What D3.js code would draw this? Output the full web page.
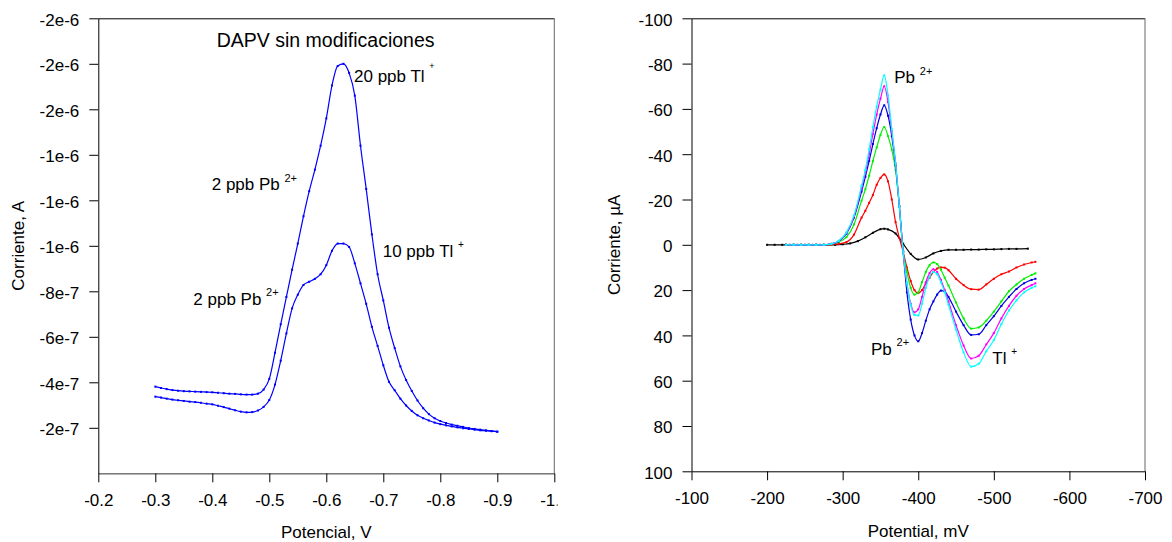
<!DOCTYPE html>
<html><head><meta charset="utf-8">
<script src="https://cdn.jsdelivr.net/npm/d3@7"></script>
<style>
html,body{margin:0;padding:0;background:#fff;}
svg{display:block;font-family:"Liberation Sans",Arial,sans-serif;}
text{white-space:pre;}
</style></head><body>
<svg id="chart" width="1172" height="542"></svg>
<script>
// ---------- LEFT CHART DATA (current in units of 1e-7 A) ----------
const potencialV = [-0.30,-0.31,-0.32,-0.33,-0.34,-0.35,-0.36,-0.37,-0.38,-0.39,-0.40,-0.41,-0.42,-0.43,-0.44,-0.45,-0.46,-0.47,-0.48,-0.49,-0.50,-0.51,-0.52,-0.53,-0.54,-0.55,-0.56,-0.57,-0.58,-0.59,-0.60,-0.61,-0.62,-0.63,-0.64,-0.65,-0.66,-0.67,-0.68,-0.69,-0.70,-0.71,-0.72,-0.73,-0.74,-0.75,-0.76,-0.77,-0.78,-0.79,-0.80,-0.81,-0.82,-0.83,-0.84,-0.85,-0.86,-0.87,-0.88,-0.89,-0.90];
const corriente20ppbTl = [-3.81,-3.75,-3.70,-3.66,-3.63,-3.61,-3.60,-3.59,-3.58,-3.57,-3.56,-3.54,-3.52,-3.50,-3.49,-3.47,-3.46,-3.46,-3.50,-3.68,-4.15,-5.3,-6.55,-7.75,-8.95,-10.1,-11.3,-12.4,-13.35,-14.4,-15.6,-17.05,-17.9,-18.0,-17.6,-16.6,-14.4,-12.5,-10.5,-8.75,-7.6,-6.4,-5.5,-4.7,-4.1,-3.62,-3.2,-2.86,-2.6,-2.42,-2.3,-2.21,-2.14,-2.09,-2.04,-1.99,-1.95,-1.92,-1.89,-1.86,-1.83];
const corriente10ppbTl = [-3.37,-3.33,-3.28,-3.24,-3.21,-3.18,-3.15,-3.13,-3.10,-3.06,-3.03,-2.97,-2.91,-2.84,-2.77,-2.71,-2.68,-2.69,-2.76,-2.92,-3.22,-3.9,-4.95,-6.15,-7.25,-7.85,-8.28,-8.42,-8.55,-8.75,-9.15,-9.78,-10.1,-10.1,-9.95,-9.23,-8.35,-7.45,-6.44,-5.6,-4.75,-4.02,-3.65,-3.28,-2.98,-2.74,-2.55,-2.42,-2.32,-2.23,-2.16,-2.11,-2.06,-2.02,-1.98,-1.95,-1.92,-1.89,-1.87,-1.85,-1.83];
const ticksXLeft = [-0.2,-0.3,-0.4,-0.5,-0.6,-0.7,-0.8,-0.9,-1.0];
const labelsXLeft = ["-0.2","-0.3","-0.4","-0.5","-0.6","-0.7","-0.8","-0.9","-1.0"];
const ticksYLeft = [-2,-4,-6,-8,-10,-12,-14,-16,-18,-20];
const labelsYLeft = ["-2e-7","-4e-7","-6e-7","-8e-7","-1e-6","-1e-6","-1e-6","-2e-6","-2e-6","-2e-6"];

// ---------- RIGHT CHART DATA (current in µA) ----------
const potencialMV = [-225,-235,-245,-255,-265,-275,-285,-295,-305,-315,-325,-330,-335,-340,-345,-350,-355,-360,-365,-370,-375,-380,-385,-390,-395,-400,-405,-410,-415,-420,-425,-430,-435,-440,-450,-460,-470,-480,-490,-500,-510,-520,-530,-540,-550,-555];
const potencialMVNegro = [-200,-210,-220,-230,-240,-250,-260,-270,-280,-290,-300,-310,-320,-330,-340,-350,-355,-360,-370,-380,-390,-400,-410,-420,-430,-440,-450,-460,-470,-480,-490,-500,-510,-520,-530,-545];
const serieNegra = [0,0,0,0,0,0,0,0,0,0,-0.2,-0.6,-1.6,-3.3,-5.3,-6.9,-7.1,-6.8,-5,-0.5,4,6.5,5.6,3.8,2.7,2.2,2.2,2.2,2.1,2.1,2.0,2.0,1.9,1.8,1.8,1.7];
const serieRoja = [0,0,0,0,0,0,-0.1,-0.4,-1.2,-4.5,-12,-15,-18.5,-22,-26.5,-29.5,-31.1,-28,-20,-10,-3,3,10,16,20,21.3,20,17,14.5,12,10.5,10,10.1,11.2,15,17.8,19.6,19.8,17.5,15,13,11.8,10,8.7,7.8,7.5];
const serieVerde = [0,0,0,0,0,0,-0.3,-1.3,-3.4,-9,-19.5,-24.5,-30.5,-37,-43,-48.5,-52,-48,-42,-33,-17,3,12,19,22,21,16.5,12,9,7.8,8.5,11,14.5,18,25.5,32.5,37,36.5,33.5,29.5,25,20.5,17.5,15,13.3,12.6];
const serieAzul = [0,0,0,0,0,0,-0.4,-1.6,-4.9,-12,-23.5,-30,-37,-44.5,-51.5,-57.5,-61.6,-57,-48,-35,-17,3,21,33,40,42.6,39,33.5,28.5,25,22,20.2,20.5,23,29.5,35.5,39.8,39.5,35.5,31.5,27,23,19.5,17,15.5,15];
const serieMagenta = [0,0,0,0,0,0,-0.4,-1.7,-5.2,-12.5,-25,-32,-40,-49,-57.5,-64.5,-70,-63,-50,-36,-17,3,17,26,29.8,28.5,23,16.5,12.5,10.8,12,15.5,20,25,35.5,44.5,50.2,49,44,39,32.5,27,22.5,19.5,17.8,17];
const serieCian = [0,0,0,0,0,0,-0.4,-1.8,-5.5,-13,-26,-33,-42,-52,-61,-68.5,-74.8,-66,-51,-36,-17,3,17,26.5,31,31.2,26,19,14,12,13,16.5,21,26.5,37.5,47.5,53.8,52.5,47,42,35,29,24.5,21,19,18.3];
const ticksXRight = [-100,-200,-300,-400,-500,-600,-700];
const labelsXRight = ["-100","-200","-300","-400","-500","-600","-700"];
const ticksYRight = [-100,-80,-60,-40,-20,0,20,40,60,80,100];
const labelsYRight = ["-100","-80","-60","-40","-20","0","20","40","60","80","100"];

// ---------- DRAWING ----------
const svg = d3.select("#chart");
const FS = 17;

function styleAxis(g){
  g.selectAll("path.domain").attr("stroke","#000").attr("stroke-width",1);
  g.selectAll(".tick line").attr("stroke","#000").attr("stroke-width",1);
  g.selectAll(".tick text").attr("fill","#000").attr("font-size",FS)
    .attr("font-family","'Liberation Sans',Arial,sans-serif");
}

function drawSeries(g, xs, ys, xScale, yScale, color){
  const pts = xs.map((x,i)=>[x, ys[i]]);
  const line = d3.line().x(d=>xScale(d[0])).y(d=>yScale(d[1])).curve(d3.curveMonotoneX);
  g.append("path").datum(pts).attr("d",line).attr("fill","none")
    .attr("stroke",color).attr("stroke-width",1.2);
  g.selectAll(null).data(pts).enter().append("rect")
    .attr("x",d=>xScale(d[0])-1).attr("y",d=>yScale(d[1])-1)
    .attr("width",2).attr("height",2).attr("fill",color);
}

function annot(g, x, y, main, sup, supSize, supDy, size){
  const t = g.append("text").attr("x",x).attr("y",y)
    .attr("font-size",size||FS).attr("fill","#000");
  t.append("tspan").text(main);
  if (sup) t.append("tspan").attr("font-size",supSize).attr("dy",supDy).text(sup);
}

// ===== LEFT =====
const xL = d3.scaleLinear().domain([-0.2,-1.0]).range([98.3,554.3]);
const yL = d3.scaleLinear().domain([0,-20]).range([473.3,18.3]);
const gL = svg.append("g");

svg.append("defs").append("clipPath").attr("id","clipL")
  .append("rect").attr("x",0).attr("y",0).attr("width",557.5).attr("height",542);

gL.append("line").attr("x1",xL(-0.2)).attr("x2",xL(-1.0)).attr("y1",yL(-20)+0.5).attr("y2",yL(-20)+0.5).attr("stroke","#000");
gL.append("line").attr("x1",xL(-1.0)).attr("x2",xL(-1.0)).attr("y1",yL(-20)).attr("y2",yL(0)).attr("stroke","#666");

const axXL = gL.append("g").attr("transform",`translate(0,${yL(0)})`).attr("clip-path","url(#clipL)")
  .call(d3.axisBottom(xL).tickValues(ticksXLeft).tickFormat((d,i)=>labelsXLeft[i]).tickSize(9).tickSizeOuter(0).tickPadding(12));
styleAxis(axXL);
const axYL = gL.append("g").attr("transform",`translate(${xL(-0.2)},0)`)
  .call(d3.axisLeft(yL).tickValues(ticksYLeft).tickFormat((d,i)=>labelsYLeft[i]).tickSize(9).tickSizeOuter(0).tickPadding(10));
styleAxis(axYL);
axYL.selectAll(".tick text").attr("dy","0.4em");

drawSeries(gL, potencialV, corriente10ppbTl, xL, yL, "#0000ff");
drawSeries(gL, potencialV, corriente20ppbTl, xL, yL, "#0000ff");

gL.append("text").attr("x",xL(-0.6)).attr("y",538).attr("text-anchor","middle")
  .attr("font-size",FS).text("Potencial, V");
gL.append("text").attr("transform",`translate(24,${yL(-10)}) rotate(-90)`).attr("text-anchor","middle")
  .attr("font-size",FS).text("Corriente, A");

annot(gL, xL(-0.4077), yL(-18.75), "DAPV sin modificaciones", null, 0, 0, 19.5);
annot(gL, xL(-0.6486), yL(-17.21), "20 ppb Tl ", "+", 9, -13);
annot(gL, xL(-0.399), yL(-12.45), "2 ppb Pb ", "2+", 11, -8);
annot(gL, xL(-0.699), yL(-9.52), "10 ppb Tl ", "+", 10, -9);
annot(gL, xL(-0.3667), yL(-7.40), "2 ppb Pb ", "2+", 11, -9);

// ===== RIGHT =====
const xR = d3.scaleLinear().domain([-100,-700]).range([691.5,1145]);
const yR = d3.scaleLinear().domain([-100,100]).range([18.3,471.3]);
const gR = svg.append("g");

gR.append("line").attr("x1",xR(-100)).attr("x2",xR(-700)).attr("y1",yR(-100)+0.5).attr("y2",yR(-100)+0.5).attr("stroke","#000");
gR.append("line").attr("x1",xR(-700)).attr("x2",xR(-700)).attr("y1",yR(-100)).attr("y2",yR(100)).attr("stroke","#666");

const axXR = gR.append("g").attr("transform",`translate(0,${yR(100)})`)
  .call(d3.axisBottom(xR).tickValues(ticksXRight).tickFormat((d,i)=>labelsXRight[i]).tickSize(9).tickSizeOuter(0).tickPadding(12));
styleAxis(axXR);
const axYR = gR.append("g").attr("transform",`translate(${xR(-100)},0)`)
  .call(d3.axisLeft(yR).tickValues(ticksYRight).tickFormat((d,i)=>labelsYRight[i]).tickSize(9).tickSizeOuter(0).tickPadding(10));
styleAxis(axYR);
axYR.selectAll(".tick text").attr("dy","0.4em");

drawSeries(gR, potencialMVNegro, serieNegra, xR, yR, "#000000");
drawSeries(gR, potencialMV, serieRoja, xR, yR, "#ff0000");
drawSeries(gR, potencialMV, serieVerde, xR, yR, "#00ee00");
drawSeries(gR, potencialMV, serieAzul, xR, yR, "#0000e0");
drawSeries(gR, potencialMV, serieMagenta, xR, yR, "#ff00ff");
drawSeries(gR, potencialMV, serieCian, xR, yR, "#00ffff");

gR.append("text").attr("x",xR(-400)).attr("y",537).attr("text-anchor","middle")
  .attr("font-size",FS).text("Potential, mV");
gR.append("text").attr("transform",`translate(619.5,${yR(0)}) rotate(-90)`).attr("text-anchor","middle")
  .attr("font-size",FS).text("Corriente, µA");

annot(gR, xR(-368.3), yR(-71.6), "Pb ", "2+", 11, -8);
annot(gR, xR(-337.5), yR(48.5), "Pb ", "2+", 11, -9);
annot(gR, xR(-498), yR(52.5), "Tl ", "+", 10, -9);
</script>
</body></html>
